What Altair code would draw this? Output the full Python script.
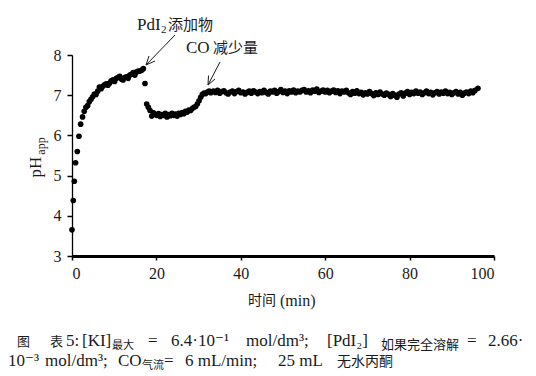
import altair as alt
import pandas as pd

# ---- data ----
time_rise = [0, 0.3, 0.55, 0.85, 1.25, 1.65, 2.05,
             2.5, 2.9, 3.3, 3.7, 4.1, 4.5, 4.9, 5.3, 5.7, 6.1, 6.5, 6.9, 7.3, 7.7,
             8.1, 8.5, 8.9, 9.3, 9.7, 10.1, 10.5, 10.9, 11.3, 11.7, 12.1, 12.5, 12.9,
             13.3, 13.7, 14.1, 14.5, 14.9, 15.3, 15.7, 16.1, 16.5, 16.9]
ph_rise = [3.65, 4.38, 4.86, 5.32, 5.6, 5.98, 6.28,
           6.46, 6.6, 6.7, 6.74, 6.84, 6.9, 6.96, 7.03, 7.02, 7.1, 7.2, 7.16, 7.22, 7.26,
           7.28, 7.25, 7.3, 7.36, 7.38, 7.34, 7.42, 7.44, 7.47, 7.4, 7.38, 7.44, 7.46,
           7.42, 7.5, 7.52, 7.56, 7.5, 7.58, 7.6, 7.6, 7.62, 7.66]

time_dip = [17.3, 17.7, 18.1, 18.5, 18.9, 19.3, 19.7, 20.1, 20.5, 20.9,
            21.3, 21.7, 22.1, 22.5, 22.9, 23.3, 23.7, 24.1, 24.5, 24.9,
            25.3, 25.7, 26.1, 26.5, 26.9, 27.3, 27.7, 28.1, 28.5, 28.9,
            29.3, 29.7, 30.1, 30.5, 30.9, 31.3, 31.7, 32.1, 32.5, 32.9]
ph_dip = [7.29, 6.78, 6.7, 6.62, 6.48, 6.56, 6.52, 6.5, 6.54, 6.47,
          6.52, 6.5, 6.55, 6.46, 6.52, 6.49, 6.55, 6.5, 6.53, 6.48,
          6.55, 6.52, 6.57, 6.54, 6.6, 6.58, 6.63, 6.62, 6.67, 6.7,
          6.72, 6.78, 6.86, 6.95, 7.02, 7.05, 7.04, 7.08, 7.1, 7.06]

time_plateau = [33.5, 34.0, 34.5, 35.0, 35.5, 36.0, 36.5, 37.0, 37.5, 38.0, 38.5, 39.0, 39.5, 40.0,
                40.5, 41.0, 41.5, 42.0, 42.5, 43.0, 43.5, 44.0, 44.5, 45.0, 45.5, 46.0, 46.5, 47.0,
                47.5, 48.0, 48.5, 49.0, 49.5, 50.0, 50.5, 51.0, 51.5, 52.0, 52.5, 53.0, 53.5, 54.0,
                54.5, 55.0, 55.5, 56.0, 56.5, 57.0, 57.5, 58.0, 58.5, 59.0, 59.5, 60.0, 60.5, 61.0,
                61.5, 62.0, 62.5, 63.0, 63.5, 64.0, 64.5, 65.0, 65.5, 66.0, 66.5, 67.0, 67.5, 68.0,
                68.5, 69.0, 69.5, 70.0, 70.5, 71.0, 71.5, 72.0, 72.5, 73.0, 73.5, 74.0, 74.5, 75.0,
                75.5, 76.0, 76.5, 77.0, 77.5, 78.0, 78.5, 79.0, 79.5, 80.0, 80.5, 81.0, 81.5, 82.0,
                82.5, 83.0, 83.5, 84.0, 84.5, 85.0, 85.5, 86.0, 86.5, 87.0, 87.5, 88.0, 88.5, 89.0,
                89.5, 90.0, 90.5, 91.0, 91.5, 92.0, 92.5, 93.0, 93.5, 94.0, 94.5, 95.0, 95.5, 96.2]
ph_plateau = [7.1, 7.07, 7.12, 7.05, 7.09, 7.11, 7.06, 7.03, 7.08, 7.1, 7.04, 7.09, 7.12, 7.06,
              7.08, 7.03, 7.07, 7.1, 7.05, 7.11, 7.08, 7.04, 7.09, 7.06, 7.12, 7.07, 7.03, 7.1,
              7.08, 7.12, 7.05, 7.09, 7.14, 7.07, 7.1, 7.04, 7.11, 7.08, 7.13, 7.06, 7.1, 7.08,
              7.12, 7.14, 7.08, 7.11, 7.06, 7.13, 7.1, 7.15, 7.07, 7.1, 7.13, 7.08, 7.12, 7.06,
              7.1, 7.13, 7.07, 7.11, 7.04, 7.1, 7.08, 7.12, 7.06, 7.02, 7.09, 7.05, 7.11, 7.04,
              7.07, 7.01, 7.06, 7.03, 7.09, 7.04, 6.99, 7.06, 7.02, 7.08, 7.03, 7.0, 7.05, 7.02,
              6.97, 7.04, 7.0, 6.95, 7.03, 7.06, 6.98, 7.05, 7.09, 7.02, 7.07, 7.04, 7.1, 7.05,
              7.08, 7.02, 7.06, 7.1, 7.04, 7.07, 7.01, 7.06, 7.09, 7.03, 7.08, 7.05, 7.1, 7.04,
              7.07, 7.02, 7.06, 7.09, 7.03, 7.07, 7.0, 7.05, 7.08, 7.04, 7.1, 7.06, 7.12, 7.17]

x_ticks = [0, 20, 40, 60, 80, 100]
y_ticks = [3, 4, 5, 6, 7, 8]

assert len(time_rise) == len(ph_rise)
assert len(time_dip) == len(ph_dip)
assert len(time_plateau) == len(ph_plateau)

df = pd.DataFrame({
    "t": time_rise + time_dip + time_plateau,
    "ph": ph_rise + ph_dip + ph_plateau,
})

# ---- layout ----
OX, OY = 72, 55          # plot origin in the page
W, H = 422, 201
SERIF = "Liberation Serif"
FONT = "Liberation Serif, DejaVu Serif, Noto Sans CJK SC"
CJK = "Noto Sans CJK SC"
INK = "#1a1a1a"
dummy = pd.DataFrame({"a": [0]})

points = alt.Chart(df).mark_circle(size=32, color="black", opacity=1).encode(
    x=alt.X("t:Q", scale=alt.Scale(domain=[0, 100], nice=False),
            axis=alt.Axis(values=x_ticks, title=None, grid=False, domainWidth=3,
                          domainColor="black", tickColor="black", tickSize=4,
                          tickWidth=1.5, labelFont=SERIF, labelFontSize=16,
                          labelColor=INK, labelPadding=5)),
    y=alt.Y("ph:Q", scale=alt.Scale(domain=[3, 8], nice=False),
            axis=alt.Axis(values=y_ticks, title=None, grid=False, domainWidth=1.3,
                          domainColor="black", tickColor="black", tickSize=5,
                          tickWidth=1.5, labelFont=SERIF, labelFontSize=16,
                          labelColor=INK, labelPadding=6)),
)


def txt(s, x, y, size, align="left", baseline="alphabetic", angle=None, font=FONT):
    kw = dict(text=s, font=font, fontSize=size, color=INK, align=align, baseline=baseline)
    if angle is not None:
        kw["angle"] = angle
    return alt.Chart(dummy).mark_text(**kw).encode(x=alt.value(x - OX), y=alt.value(y - OY))


def seg(x1, y1, x2, y2, w=1.0):
    return alt.Chart(dummy).mark_rule(color=INK, strokeWidth=w).encode(
        x=alt.value(x1 - OX), y=alt.value(y1 - OY),
        x2=alt.value(x2 - OX), y2=alt.value(y2 - OY))


layers = [points]

# axis titles
layers += [
    txt("pH", 41, 167, 17, align="center", angle=270),
    txt("app", 45, 146, 12, align="center", angle=270),
    txt("时间", 262, 301, 14, align="center", baseline="middle", font=CJK),
    txt("(min)", 280, 306, 16, align="left", font=SERIF),
]

# annotations
layers += [
    txt("PdI", 137, 30, 17),
    txt("2", 161, 33, 11),
    txt("添加物", 168, 30, 15, font=CJK),
    txt("CO", 186, 53, 17),
    txt("减少量", 213, 53, 15, font=CJK),
    seg(175, 35, 146, 65),
    seg(146, 65, 155, 61),
    seg(146, 65, 149, 56),
    seg(220, 62, 208, 85),
    seg(208, 85, 215, 79),
    seg(208, 85, 208.5, 75.5),
]

# caption, line 1
B1, S1 = 346, 349
layers += [
    txt("图", 17, B1, 13, font=CJK),
    txt("表", 50, B1, 13, font=CJK),
    txt("5:", 66, B1, 17),
    txt("[KI]", 82, B1, 17),
    txt("最大", 112, S1, 11, font=CJK),
    txt("=", 148, B1, 17),
    txt("6.4·10⁻¹", 171, B1, 17),
    txt("mol/dm³;", 246, B1, 17),
    txt("[PdI₂]", 327, B1, 17),
    txt("如果完全溶解", 381, S1, 13, font=CJK),
    txt("=", 467, B1, 17),
    txt("2.66·", 488, B1, 17),
]
# caption, line 2
B2, S2 = 366, 369
layers += [
    txt("10⁻³", 8, B2, 17),
    txt("mol/dm³;", 45, B2, 17),
    txt("CO", 118, B2, 17),
    txt("气流", 142, S2, 11, font=CJK),
    txt("=", 164, B2, 17),
    txt("6 mL/min;", 185, B2, 17),
    txt("25 mL", 278, B2, 17),
    txt("无水丙酮", 337, B2, 14, font=CJK),
]

chart = alt.layer(*layers).properties(
    width=W, height=H,
    autosize=alt.AutoSizeParams(type="none"),
    padding={"left": OX, "top": OY, "right": 536 - OX - W, "bottom": 376 - OY - H},
    background="white",
).configure_view(stroke=None)

chart.save("out.html", embed_options={"renderer": "svg", "actions": False})
